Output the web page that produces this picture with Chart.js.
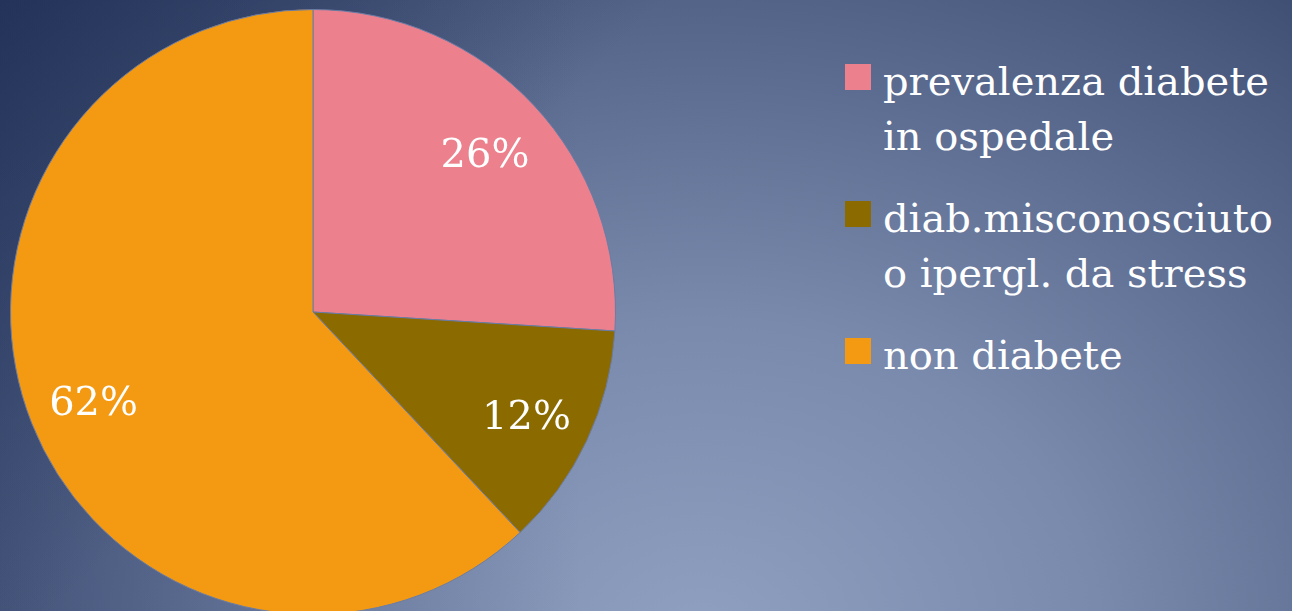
<!DOCTYPE html>
<html>
<head>
<meta charset="utf-8">
<script src="https://cdn.jsdelivr.net/npm/chart.js@4/dist/chart.umd.min.js"></script>
<style>
  html, body {
    margin: 0;
    padding: 0;
    width: 1292px;
    height: 611px;
    overflow: hidden;
  }
  body {
    position: relative;
    background:
      linear-gradient(135deg, rgba(25, 40, 78, 0.55) 0%, rgba(25, 40, 78, 0) 35%),
      linear-gradient(to right, rgba(40, 55, 95, 0.45) 0%, rgba(40, 55, 95, 0) 45%),
      radial-gradient(ellipse 1000px 800px at 700px 640px, #8fa0c0 0%, #7a8aad 40%, #5d6d91 70%, #4a5a7e 90%, #34446a 110%);
    font-family: "DejaVu Serif", serif;
  }
  #pieBox {
    position: absolute;
    left: 10px;
    top: 9px;
    width: 606px;
    height: 606px;
  }
  #legend {
    position: absolute;
    left: 845px;
    top: 54px;
    width: 447px;
    color: #ffffff;
    font-size: 40px;
    line-height: 55px;
  }
  .legendItem {
    position: relative;
    padding-left: 38px;
    margin-bottom: 27px;
    width: 410px;
  }
  .legendBox {
    position: absolute;
    left: 0;
    top: 10px;
    width: 26px;
    height: 26px;
  }
</style>
</head>
<body>
<div id="pieBox"><canvas id="pieChart"></canvas></div>
<div id="legend"></div>
<script>
const categories = ['prevalenza diabete in ospedale', 'diab.misconosciuto o ipergl. da stress', 'non diabete'];
const percentValues = [26, 12, 62];
const sliceColors = ['#ec808d', '#8b6a00', '#f39a12'];

const sliceLabels = {
  id: 'sliceLabels',
  afterDatasetsDraw(chart) {
    const ctx = chart.ctx;
    const meta = chart.getDatasetMeta(0);
    ctx.save();
    ctx.fillStyle = '#ffffff';
    ctx.font = '40px "DejaVu Serif", serif';
    ctx.textAlign = 'center';
    ctx.textBaseline = 'middle';
    meta.data.forEach((arc, i) => {
      const mid = (arc.startAngle + arc.endAngle) / 2;
      const r = arc.outerRadius * 0.78;
      ctx.fillText(percentValues[i] + '%', arc.x + Math.cos(mid) * r, arc.y + Math.sin(mid) * r + 6);
    });
    ctx.restore();
  }
};

const config = {
  type: 'pie',
  data: {
    labels: categories,
    datasets: [{
      data: percentValues,
      backgroundColor: sliceColors,
      borderColor: '#6a7ca6',
      borderWidth: 1
    }]
  },
  options: {
    responsive: true,
    maintainAspectRatio: false,
    animation: false,
    layout: { padding: 0 },
    plugins: {
      legend: { display: false },
      tooltip: { enabled: false }
    }
  },
  plugins: [sliceLabels]
};

const pieChart = new Chart(document.getElementById('pieChart'), config);

const legend = document.getElementById('legend');
categories.forEach((label, i) => {
  const item = document.createElement('div');
  item.className = 'legendItem';
  const box = document.createElement('span');
  box.className = 'legendBox';
  box.style.background = sliceColors[i];
  item.appendChild(box);
  item.appendChild(document.createTextNode(label));
  legend.appendChild(item);
});
</script>
</body>
</html>
